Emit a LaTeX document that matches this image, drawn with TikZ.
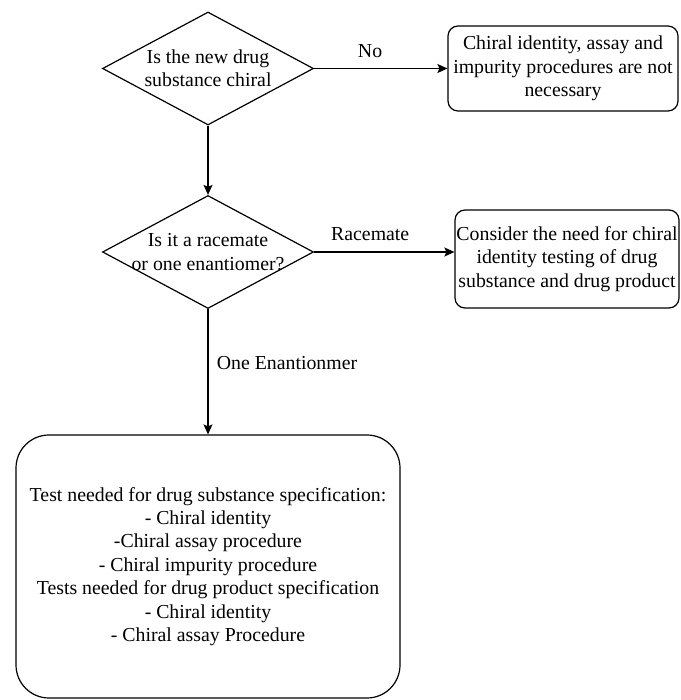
\documentclass[tikz,border=0pt]{standalone}
\usepackage{fontspec}
\setmainfont{Liberation Serif}
\usepackage{tikz}
\usetikzlibrary{positioning}
\usetikzlibrary{shapes,arrows,arrows.meta}

\tikzset{
  decision/.style={diamond, draw, line width=1.2pt, aspect=1.87, inner sep=0pt,
    minimum width=211pt, minimum height=113pt, align=center},
  outcome/.style={rectangle, draw, line width=1.2pt, rounded corners=10pt,
    inner sep=0pt, align=center},
  flow/.style={line width=1.2pt, -{Stealth[length=10pt,width=9pt,inset=2pt]}}
}

\begin{document}
\begin{tikzpicture}[x=1pt, y=1pt, font=\fontsize{19.8}{23.4}\selectfont]
  \useasboundingbox (0,0) rectangle (680,-700);
  \node(q1) [decision] at (208,-68.5) {Is the new drug\\substance chiral};
  \node(n1) [outcome, right of=q1, node distance=355pt, minimum width=230pt,
    minimum height=85pt] {Chiral identity, assay and\\impurity procedures are not\\necessary};
  \node(q2) [decision, below of=q1, node distance=183.5pt, inner xsep=-12.5pt]
    {Is it a racemate\\or one enantiomer?};
  \node(n2) [outcome, right of=q2, node distance=359pt, yshift=-7pt, minimum width=224pt,
    minimum height=98pt] {Consider the need for chiral\\identity testing of drug\\substance and drug product};
  \node(n3) [outcome, below of=q2, node distance=314.5pt, rounded corners=33pt,
    minimum width=384pt, minimum height=263pt]
    {Test needed for drug substance specification:\\- Chiral identity\\-Chiral assay procedure\\- Chiral impurity procedure\\Tests needed for drug product specification\\- Chiral identity\\- Chiral assay Procedure};
  \draw[flow] (q1) -- node[above=7pt, pos=0.42]{No} (n1);
  \draw[flow] (q1) -- (q2);
  \draw[flow] (q2.east) -- node[above=7pt, pos=0.40]{Racemate} (q2.east -| n2.west);
  \draw[flow] (q2) -- node[right=5pt, pos=0.43]{One Enantionmer} (n3);
\end{tikzpicture}
\end{document}
